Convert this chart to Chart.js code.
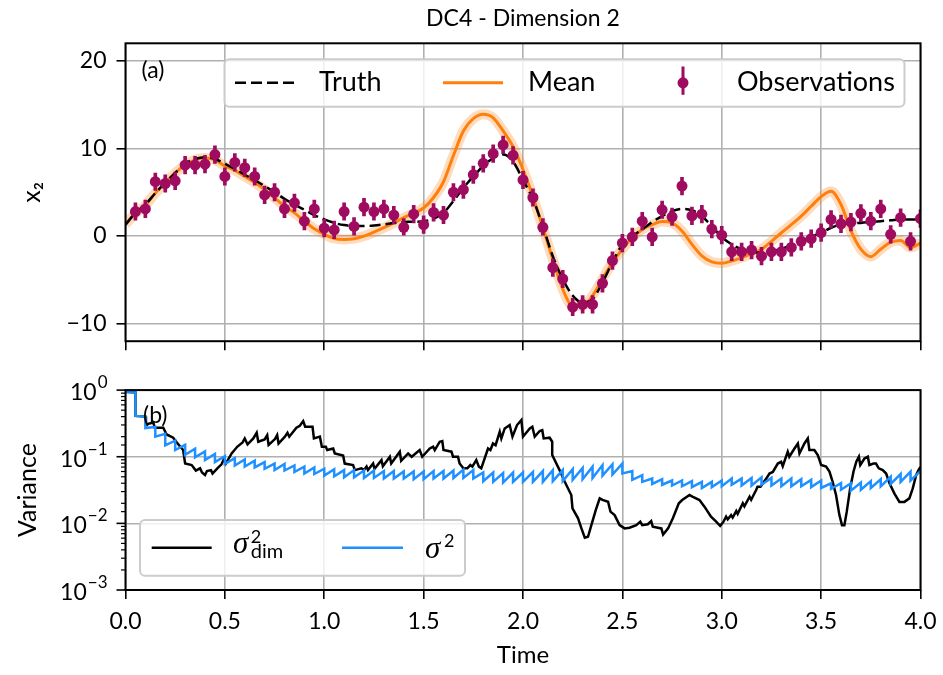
<!DOCTYPE html>
<html>
<head>
<meta charset="utf-8">
<title>DC4 - Dimension 2</title>
<script src="https://cdn.jsdelivr.net/npm/chart.js@4.4.1/dist/chart.umd.min.js"></script>
<style>
  body { margin: 0; background: #fff; }
  #stateChart { position: absolute; left: 0; top: 0; }
  #varChart { position: absolute; left: 0; top: 365px; }
</style>
</head>
<body>
<canvas id="stateChart" width="943" height="365"></canvas>
<canvas id="varChart" width="943" height="310"></canvas>
<script>
// observations of x2 (every 0.05 time units) and their error bar half-height
const obsTimes = [
  0.05, 0.1, 0.15, 0.2, 0.25, 0.3, 0.35, 0.4, 0.45, 0.5, 0.55, 0.6, 0.65, 0.7, 0.75, 0.8, 0.85, 0.9, 0.95, 1.0,
  1.05, 1.1, 1.15, 1.2, 1.25, 1.3, 1.35, 1.4, 1.45, 1.5, 1.55, 1.6, 1.65, 1.7, 1.75, 1.8, 1.85, 1.9, 1.95, 2.0,
  2.05, 2.1, 2.15, 2.2, 2.25, 2.3, 2.35, 2.4, 2.45, 2.5, 2.55, 2.6, 2.65, 2.7, 2.75, 2.8, 2.85, 2.9, 2.95, 3.0,
  3.05, 3.1, 3.15, 3.2, 3.25, 3.3, 3.35, 3.4, 3.45, 3.5, 3.55, 3.6, 3.65, 3.7, 3.75, 3.8, 3.85, 3.9, 3.95, 4.0
]
const obsValues = [
  2.8, 3.1, 6.2, 6.0, 6.3, 8.1, 8.1, 8.2, 9.3, 6.8, 8.4, 7.8, 6.8, 4.7, 5.0, 3.1, 3.8, 1.7, 3.1, 0.9,
  0.7, 2.8, 1.1, 3.3, 2.8, 3.1, 2.4, 1.0, 2.5, 1.3, 2.7, 2.4, 5.0, 5.3, 7.0, 8.3, 9.4, 10.4, 9.2, 6.4,
  4.4, 1.0, -3.6, -4.9, -8.1, -7.8, -7.8, -5.4, -2.8, -0.8, -0.1, 1.7, -0.1, 3.0, 2.2, 5.7, 2.3, 2.5, 0.8, 0.1,
  -1.8, -1.8, -1.6, -2.3, -1.8, -1.8, -1.3, -0.6, -0.3, 0.4, 1.9, 1.4, 1.6, 2.6, 1.7, 3.1, 0.2, 2.1, -0.6, 2.0
]
const obsError = 1.0

// truth and ensemble mean, sampled at t = 0 and then at every observation time
const curveTimes = [0, ...obsTimes]
const truthValues = [
  1.3, 2.65, 3.6, 4.9, 6.06, 7.2, 8.26, 8.8, 9.0, 8.8, 8.26, 7.65, 7.0, 6.4, 5.7, 5.0, 4.24, 3.6, 3.0, 2.4, 1.9,
  1.5, 1.25, 1.14, 1.14, 1.2, 1.33, 1.48, 1.6, 1.63, 1.7, 1.97, 2.65, 4.0, 5.5, 6.8, 8.0, 8.9, 9.3, 8.5, 6.4,
  4.2, 1.1, -2.3, -4.9, -6.8, -7.6, -7.2, -5.3, -3.0, -0.95, 0, 0.76, 1.6, 2.27, 2.84, 3.1, 2.95, 2.27, 1.14, -0.1,
  -0.95, -1.5, -1.8, -1.9, -1.75, -1.44, -1.06, -0.57, -0.08, 0.38, 0.95, 1.33, 1.44, 1.5, 1.6, 1.7, 1.8, 1.9, 1.9, 1.9
]
const meanValues = [
  1.33, 2.6, 3.5, 4.9, 6.06, 7.2, 8.1, 8.7, 8.9, 8.7, 8.0, 7.5, 6.8, 6.1, 5.3, 4.36, 3.4, 2.65, 1.7, 0.83, 0.2,
  -0.27, -0.38, -0.3, 0, 0.45, 0.95, 1.5, 2.1, 2.6, 3.2, 4.4, 6.2, 9.2, 12.0, 13.4, 13.9, 13.5, 12.0, 10.2, 7.6,
  4.5, 0.95, -2.65, -6.06, -7.95, -7.95, -6.8, -4.9, -3.0, -1.5, -0.2, 0.76, 1.3, 1.65, 1.5, 0.57, -0.95, -2.27, -2.95, -3.1,
  -2.84, -2.46, -2.0, -1.5, -0.6, 0.38, 1.3, 2.27, 3.4, 4.5, 5.1, 3.6, 0.6, -1.5, -2.35, -1.5, -0.7, -0.5, -1.3, -0.8
]

// sigma^2: value before the first update, then forecast / analysis value at each observation
const sigmaStart = 0.93
const sigmaBefore = [
  0.92, 0.40, 0.28, 0.22, 0.174, 0.151, 0.132, 0.120, 0.110, 0.102, 0.095, 0.091, 0.087, 0.083, 0.079, 0.078, 0.074, 0.071, 0.069, 0.066,
  0.065, 0.063, 0.063, 0.062, 0.062, 0.061, 0.061, 0.060, 0.060, 0.060, 0.061, 0.061, 0.062, 0.064, 0.063, 0.058, 0.058, 0.057, 0.058, 0.058,
  0.059, 0.061, 0.063, 0.063, 0.065, 0.068, 0.071, 0.075, 0.077, 0.079, 0.061, 0.053, 0.047, 0.046, 0.044, 0.044, 0.043, 0.042, 0.042, 0.044,
  0.047, 0.047, 0.048, 0.049, 0.048, 0.047, 0.047, 0.046, 0.045, 0.044, 0.040, 0.040, 0.040, 0.041, 0.043, 0.046, 0.050, 0.055, 0.060, 0.061
]
const sigmaAfter = [
  0.41, 0.27, 0.20, 0.148, 0.126, 0.107, 0.098, 0.089, 0.083, 0.078, 0.074, 0.071, 0.069, 0.066, 0.063, 0.062, 0.059, 0.056, 0.055, 0.052,
  0.051, 0.049, 0.049, 0.048, 0.048, 0.047, 0.047, 0.047, 0.046, 0.046, 0.047, 0.047, 0.048, 0.048, 0.047, 0.043, 0.042, 0.041, 0.042, 0.042,
  0.042, 0.042, 0.043, 0.043, 0.045, 0.046, 0.048, 0.052, 0.054, 0.056, 0.045, 0.042, 0.039, 0.038, 0.037, 0.036, 0.035, 0.034, 0.035, 0.036,
  0.038, 0.037, 0.037, 0.038, 0.037, 0.036, 0.036, 0.036, 0.035, 0.034, 0.033, 0.032, 0.031, 0.032, 0.034, 0.036, 0.039, 0.042, 0.044
]

// sigma^2_dim traced as a polyline
const dimTimes = [
  0, 0.05, 0.05, 0.1, 0.103, 0.14, 0.147, 0.19, 0.207, 0.24, 0.266, 0.29, 0.3, 0.333, 0.354, 0.375, 0.385, 0.4, 0.41, 0.43,
  0.438, 0.462, 0.483, 0.495, 0.505, 0.534, 0.562, 0.589, 0.6, 0.614, 0.643, 0.66, 0.668, 0.7, 0.713, 0.72, 0.752, 0.763, 0.77, 0.802,
  0.815, 0.824, 0.86, 0.877, 0.894, 0.904, 0.941, 0.948, 0.978, 0.988, 1.008, 1.015, 1.045, 1.053, 1.095, 1.103, 1.145, 1.154, 1.187, 1.2,
  1.213, 1.22, 1.246, 1.253, 1.288, 1.295, 1.33, 1.337, 1.38, 1.387, 1.422, 1.44, 1.48, 1.493, 1.531, 1.548, 1.556, 1.581, 1.594, 1.6,
  1.64, 1.648, 1.673, 1.681, 1.7, 1.72, 1.735, 1.745, 1.765, 1.778, 1.79, 1.824, 1.836, 1.849, 1.862, 1.883, 1.891, 1.908, 1.933, 1.947,
  1.97, 1.992, 2.0, 2.034, 2.047, 2.059, 2.084, 2.097, 2.104, 2.134, 2.147, 2.147, 2.184, 2.21, 2.243, 2.249, 2.277, 2.294, 2.311, 2.327,
  2.344, 2.366, 2.386, 2.4, 2.428, 2.44, 2.461, 2.486, 2.511, 2.536, 2.57, 2.59, 2.6, 2.628, 2.645, 2.653, 2.696, 2.705, 2.73, 2.754,
  2.784, 2.801, 2.838, 2.855, 2.888, 2.913, 2.946, 2.972, 2.992, 3.009, 3.022, 3.03, 3.047, 3.055, 3.073, 3.08, 3.106, 3.114, 3.14, 3.148,
  3.173, 3.18, 3.195, 3.224, 3.24, 3.257, 3.282, 3.299, 3.307, 3.332, 3.34, 3.366, 3.383, 3.391, 3.416, 3.433, 3.441, 3.466, 3.483, 3.492,
  3.5, 3.525, 3.542, 3.558, 3.575, 3.592, 3.605, 3.617, 3.629, 3.646, 3.663, 3.677, 3.69, 3.697, 3.718, 3.735, 3.743, 3.763, 3.776, 3.79,
  3.81, 3.827, 3.844, 3.869, 3.894, 3.919, 3.944, 3.961, 3.978, 3.99, 4.0
]
const dimValues = [
  0.95, 0.92, 0.41, 0.40, 0.305, 0.327, 0.272, 0.272, 0.216, 0.193, 0.153, 0.126, 0.079, 0.075, 0.062, 0.067, 0.058, 0.053, 0.061, 0.063,
  0.056, 0.067, 0.077, 0.092, 0.079, 0.112, 0.141, 0.164, 0.188, 0.153, 0.188, 0.229, 0.168, 0.182, 0.211, 0.15, 0.184, 0.211, 0.158, 0.2,
  0.229, 0.2, 0.272, 0.292, 0.343, 0.282, 0.282, 0.188, 0.2, 0.141, 0.141, 0.126, 0.133, 0.112, 0.104, 0.079, 0.075, 0.063, 0.067, 0.063,
  0.071, 0.063, 0.079, 0.066, 0.089, 0.072, 0.1, 0.079, 0.119, 0.087, 0.112, 0.1, 0.126, 0.1, 0.133, 0.141, 0.126, 0.168, 0.172, 0.126,
  0.119, 0.1, 0.1, 0.079, 0.067, 0.067, 0.075, 0.071, 0.089, 0.071, 0.067, 0.133, 0.126, 0.158, 0.149, 0.237, 0.188, 0.266, 0.299, 0.2,
  0.299, 0.355, 0.2, 0.266, 0.282, 0.2, 0.243, 0.25, 0.188, 0.193, 0.168, 0.106, 0.063, 0.042, 0.0266, 0.0168, 0.0119, 0.0084, 0.0061, 0.0063,
  0.0094, 0.0158, 0.0237, 0.0225, 0.0211, 0.015, 0.0133, 0.0094, 0.0084, 0.0086, 0.0094, 0.0106, 0.0094, 0.0097, 0.0108, 0.0089, 0.0084, 0.0068, 0.0084, 0.0119,
  0.02, 0.0224, 0.0266, 0.025, 0.0224, 0.0178, 0.0126, 0.0106, 0.0092, 0.0106, 0.0126, 0.0115, 0.0133, 0.0122, 0.0153, 0.0139, 0.02, 0.018, 0.0251, 0.0226,
  0.0316, 0.0355, 0.0355, 0.047, 0.056, 0.059, 0.079, 0.084, 0.072, 0.119, 0.1, 0.133, 0.158, 0.112, 0.158, 0.188, 0.126, 0.126, 0.106, 0.089,
  0.075, 0.071, 0.06, 0.042, 0.0266, 0.0133, 0.0094, 0.0094, 0.015, 0.0335, 0.06, 0.084, 0.1, 0.075, 0.094, 0.1, 0.075, 0.079, 0.079, 0.067,
  0.063, 0.056, 0.04, 0.028, 0.021, 0.021, 0.0237, 0.0335, 0.053, 0.063, 0.07
]

// axis ticks
const timeTicks = [0, 0.5, 1, 1.5, 2, 2.5, 3, 3.5, 4]
const stateTicks = [-10, 0, 10, 20]
const varDecades = [1, 0.1, 0.01, 0.001]

const FONT = "Lato, 'DejaVu Sans', sans-serif"
const MATH = "'Liberation Serif', 'DejaVu Serif', serif"
const GRID = "#b0b0b0"
const ORANGE = "#ff7f0e"
const OBS = "#9e0b5f"
const BLUE = "#1e90ff"

Chart.defaults.font.family = FONT
Chart.defaults.color = "#000"

const pts = (xs, ys) => xs.map((x, i) => ({x: x, y: ys[i]}))

const sigmaPoints = [{x: 0, y: sigmaStart}]
obsTimes.forEach((t, i) => {
  sigmaPoints.push({x: t, y: sigmaBefore[i]})
  if (i < sigmaAfter.length) sigmaPoints.push({x: t, y: sigmaAfter[i]})
})

function gridOpts() {
  return {color: GRID, lineWidth: 1.6, tickLength: 9, tickColor: "#000", tickWidth: 1.6}
}

function drawFrame(ctx, a) {
  ctx.save()
  ctx.strokeStyle = "#000"
  ctx.lineWidth = 2
  ctx.strokeRect(a.left, a.top, a.right - a.left, a.bottom - a.top)
  ctx.restore()
}

function legendFrame(ctx, x, y, w, h) {
  ctx.beginPath()
  ctx.roundRect(x, y, w, h, 5)
  ctx.fillStyle = "rgba(255,255,255,0.8)"
  ctx.fill()
  ctx.strokeStyle = "#cccccc"
  ctx.lineWidth = 2
  ctx.stroke()
}

function hline(ctx, x0, x1, y) {
  ctx.beginPath()
  ctx.moveTo(x0, y)
  ctx.lineTo(x1, y)
  ctx.stroke()
}

const stateDecor = {
  id: "stateDecor",
  afterDraw(chart) {
    const ctx = chart.ctx
    const a = chart.chartArea
    drawFrame(ctx, a)
    ctx.save()
    ctx.fillStyle = "#000"
    ctx.font = "23px " + FONT
    ctx.textBaseline = "middle"
    ctx.fillText("(a)", a.left + 16, a.top + 27)

    const lx = a.left + 99, ly = a.top + 16
    legendFrame(ctx, lx, ly, 680, 47.5)
    const cy = ly + 23.5
    ctx.strokeStyle = "#000"
    ctx.lineWidth = 2.5
    ctx.setLineDash([11, 5])
    hline(ctx, lx + 10.5, lx + 70.5, cy)
    ctx.setLineDash([])
    ctx.strokeStyle = ORANGE
    ctx.lineWidth = 3
    hline(ctx, lx + 218.5, lx + 278.5, cy)
    ctx.fillStyle = OBS
    ctx.fillRect(lx + 457, ly + 7.2, 3, 28.3)
    ctx.beginPath()
    ctx.arc(lx + 458.5, cy, 5.5, 0, Math.PI * 2)
    ctx.fill()

    ctx.fillStyle = "#000"
    ctx.font = "27px " + FONT
    ctx.textBaseline = "alphabetic"
    ctx.fillText("Truth", lx + 94.5, ly + 31.2)
    ctx.fillText("Mean", lx + 303.5, ly + 31.2)
    ctx.fillText("Observations", lx + 512.5, ly + 31.2)
    ctx.restore()
  }
}

const varDecor = {
  id: "varDecor",
  afterDraw(chart) {
    const ctx = chart.ctx
    const a = chart.chartArea
    const y = chart.scales.y
    drawFrame(ctx, a)
    ctx.save()

    // log ticks: long ones on decades, short ones between
    ctx.strokeStyle = "#000"
    y.ticks.forEach(t => {
      const py = y.getPixelForValue(t.value)
      const lg = Math.log10(t.value)
      const major = Math.abs(lg - Math.round(lg)) < 1e-6
      ctx.lineWidth = major ? 1.6 : 1.2
      hline(ctx, a.left - (major ? 9 : 4.5), a.left, py)
    })
    ctx.fillStyle = "#000"
    ctx.textAlign = "right"
    ctx.textBaseline = "alphabetic"
    varDecades.forEach(v => {
      const py = y.getPixelForValue(v)
      const e = Math.round(Math.log10(v))
      const exp = e < 0 ? "\u2212" + (-e) : String(e)
      const right = a.left - 18
      ctx.font = "17px " + FONT
      const ew = ctx.measureText(exp).width
      ctx.fillText(exp, right, py - 2)
      ctx.font = "23px " + FONT
      ctx.fillText("10", right - ew - 1, py + 10)
    })

    ctx.textAlign = "left"
    ctx.font = "23px " + FONT
    ctx.textBaseline = "middle"
    ctx.fillText("(b)", a.left + 17.5, a.top + 25)

    const lx = a.left + 14.5, ly = a.bottom - 70
    legendFrame(ctx, lx, ly, 325, 55.7)
    ctx.lineWidth = 2.5
    ctx.strokeStyle = "#000"
    hline(ctx, lx + 11.7, lx + 71.7, ly + 27.7)
    ctx.strokeStyle = BLUE
    hline(ctx, lx + 202, lx + 263, ly + 27.7)

    ctx.fillStyle = "#000"
    ctx.textBaseline = "alphabetic"
    ctx.font = "italic 31px " + MATH
    ctx.fillText("\u03c3", lx + 93, ly + 33.3)
    ctx.fillText("\u03c3", lx + 285, ly + 38.3)
    ctx.font = "18px " + FONT
    ctx.fillText("2", lx + 110.7, ly + 23)
    ctx.fillText("2", lx + 304, ly + 26.7)
    ctx.font = "20px " + FONT
    ctx.fillText("dim", lx + 110.7, ly + 37.7)
    ctx.restore()
  }
}

// shared time axis; the side padding Chart.js reserves for edge labels is dropped
// so both panels keep the same plot width
const timeAxis = (showLabels, height) => ({
  type: "linear",
  min: 0,
  max: 4,
  offset: false,
  afterBuildTicks: s => { s.ticks = timeTicks.map(v => ({value: v})) },
  afterFit: s => {
    s.height = height
    s.paddingLeft = 0
    s.paddingRight = 0
  },
  ticks: {
    autoSkip: false,
    maxRotation: 0,
    padding: 9,
    font: {size: 23},
    callback: v => showLabels ? v.toFixed(1) : ""
  },
  grid: Object.assign(gridOpts(), {offset: false}),
  border: {display: false}
})

new Chart(document.getElementById("stateChart"), {
  type: "line",
  data: {
    datasets: [
      {
        label: "Observations",
        data: pts(obsTimes, obsValues),
        showLine: false,
        pointRadius: 5.5,
        pointBorderWidth: 0,
        pointBackgroundColor: OBS,
        order: 0
      },
      {
        type: "bar",
        label: "obs error",
        data: obsTimes.map((t, i) => ({x: t, y: [obsValues[i] - obsError, obsValues[i] + obsError]})),
        backgroundColor: OBS,
        barThickness: 3,
        borderWidth: 0,
        order: 1
      },
      {
        label: "Truth",
        data: pts(curveTimes, truthValues),
        borderColor: "#000",
        borderWidth: 2.5,
        borderDash: [11, 5],
        pointRadius: 0,
        cubicInterpolationMode: "monotone",
        order: 2
      },
      {
        label: "Mean",
        data: pts(curveTimes, meanValues),
        borderColor: ORANGE,
        borderWidth: 3,
        pointRadius: 0,
        cubicInterpolationMode: "monotone",
        order: 3
      },
      {
        label: "ensemble",
        data: pts(curveTimes, meanValues),
        borderColor: "rgba(255,127,14,0.28)",
        borderWidth: 10,
        pointRadius: 0,
        cubicInterpolationMode: "monotone",
        order: 4
      }
    ]
  },
  options: {
    responsive: false,
    animation: false,
    events: [],
    layout: {padding: {right: 22.5}},
    plugins: {
      legend: {display: false},
      tooltip: {enabled: false},
      title: {
        display: true,
        text: "DC4 - Dimension 2",
        fullSize: false,
        font: {size: 23, weight: "normal"},
        padding: {top: 5, bottom: 10.7}
      }
    },
    scales: {
      x: timeAxis(false, 21.7),
      y: {
        type: "linear",
        min: -12,
        max: 22,
        afterBuildTicks: s => { s.ticks = stateTicks.map(v => ({value: v})) },
        afterFit: s => { s.width = 125.5 },
        ticks: {
          padding: 10,
          font: {size: 23},
          callback: v => v < 0 ? "\u2212" + (-v) : String(v)
        },
        grid: gridOpts(),
        border: {display: false},
        title: {display: true, text: "x\u2082", font: {size: 25}, padding: {top: 17, bottom: 0}}
      }
    }
  },
  plugins: [stateDecor]
})

new Chart(document.getElementById("varChart"), {
  type: "line",
  data: {
    datasets: [
      {
        label: "sigma2",
        data: sigmaPoints,
        borderColor: BLUE,
        borderWidth: 2.5,
        pointRadius: 0,
        tension: 0,
        order: 0
      },
      {
        label: "sigma2 dim",
        data: pts(dimTimes, dimValues),
        borderColor: "#000",
        borderWidth: 2.5,
        pointRadius: 0,
        tension: 0,
        order: 1
      }
    ]
  },
  options: {
    responsive: false,
    animation: false,
    events: [],
    layout: {padding: {top: 25.1, right: 22.5}},
    plugins: {
      legend: {display: false},
      tooltip: {enabled: false}
    },
    scales: {
      x: Object.assign(timeAxis(true, 85), {
        title: {display: true, text: "Time", font: {size: 24}, padding: {top: 0, bottom: 5}}
      }),
      y: {
        type: "logarithmic",
        min: 0.001,
        max: 1,
        afterFit: s => { s.width = 125.5 },
        ticks: {autoSkip: false, callback: () => ""},
        grid: {
          color: c => {
            const lg = Math.log10(c.tick.value)
            return Math.abs(lg - Math.round(lg)) < 1e-6 ? GRID : "rgba(0,0,0,0)"
          },
          lineWidth: 1.6,
          drawTicks: false
        },
        border: {display: false},
        title: {display: true, text: "Variance", font: {size: 25}, padding: {top: 13, bottom: 0}}
      }
    }
  },
  plugins: [varDecor]
})
</script>
</body>
</html>
